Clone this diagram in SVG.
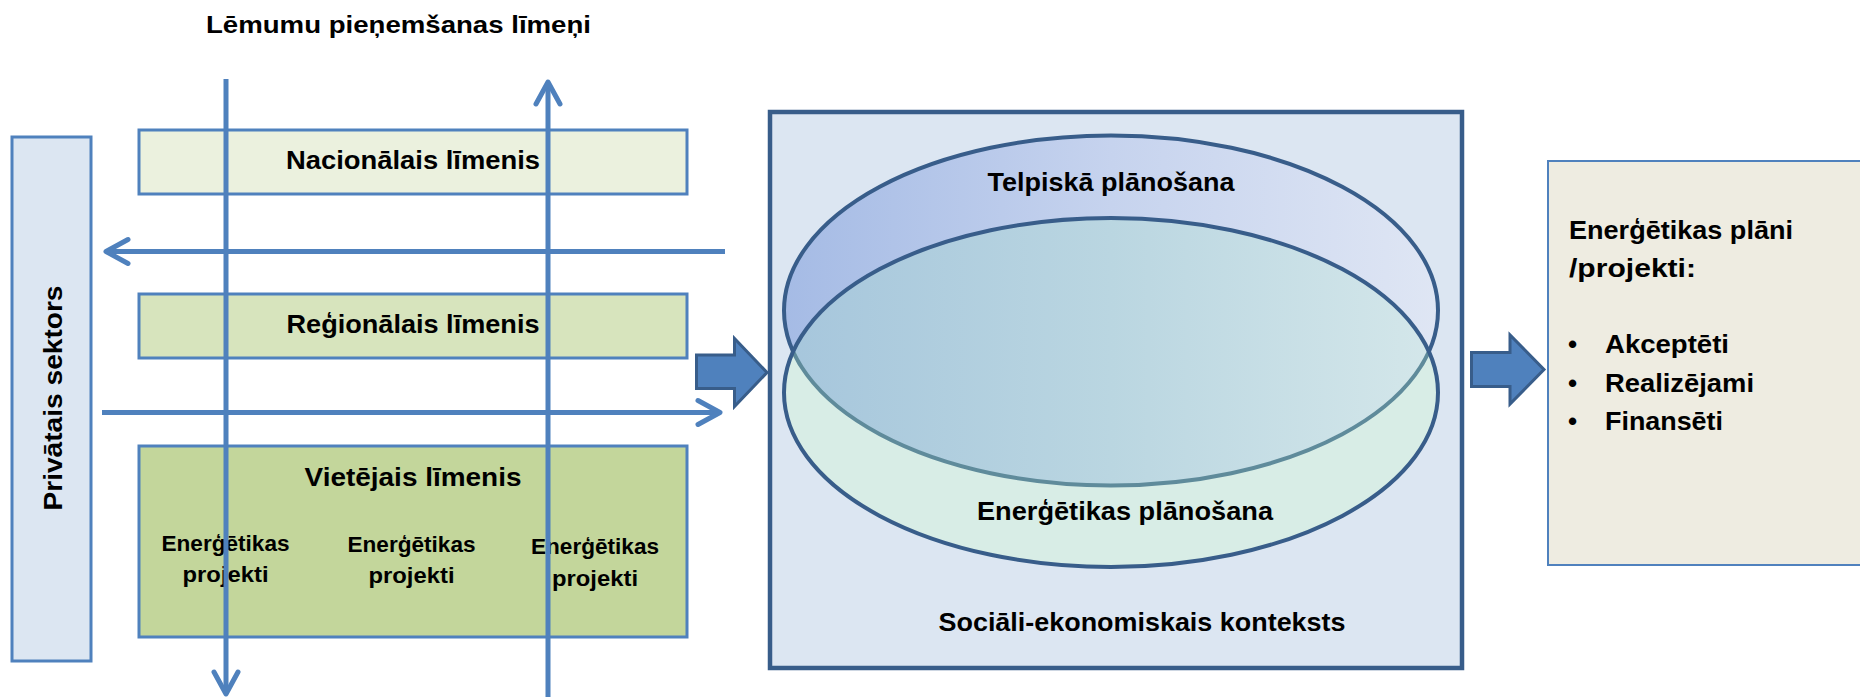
<svg xmlns="http://www.w3.org/2000/svg" width="1860" height="697" viewBox="0 0 1860 697">
<defs>
<style>
.t{font-family:"Liberation Sans",Arial,sans-serif;font-weight:bold;fill:#000}
.c{text-anchor:middle}
.lvl{stroke:#4f81bd;stroke-width:3}
.ln{stroke:#4f81bd;stroke-width:5;fill:none}
.blk{fill:#4f81bd;stroke:#385d8a;stroke-width:3;stroke-linejoin:miter}
</style>
<marker id="ah" markerUnits="userSpaceOnUse" markerWidth="40" markerHeight="40" viewBox="-30 -20 40 40" refX="0" refY="0" orient="auto" overflow="visible">
<path d="M-22,-12 L0,0 L-22,12" fill="none" stroke="#4f81bd" stroke-width="5" stroke-linecap="round" stroke-linejoin="round"/>
</marker>
<linearGradient id="gTop" x1="0" y1="0" x2="1" y2="0">
<stop offset="0" stop-color="#a5bbe5"/>
<stop offset="0.5" stop-color="#c6d3ee"/>
<stop offset="1" stop-color="#dfe6f4"/>
</linearGradient>
<linearGradient id="gOv" x1="0" y1="0" x2="1" y2="0">
<stop offset="0" stop-color="#a6c6dc"/>
<stop offset="0.5" stop-color="#bad6e1"/>
<stop offset="1" stop-color="#d4e7ea"/>
</linearGradient>
<clipPath id="clipBot"><ellipse cx="1111" cy="392.5" rx="327" ry="174.5"/></clipPath>
</defs>
<rect x="0" y="0" width="1860" height="697" fill="#ffffff"/>

<g id="title">
<text class="t c" x="398.5" y="33" font-size="24" textLength="385" lengthAdjust="spacingAndGlyphs">Lēmumu pieņemšanas līmeņi</text>
</g>

<g id="private-sector">
<rect x="12" y="137" width="79" height="524" fill="#dce6f2" stroke="#4f81bd" stroke-width="3"/>
<text class="t c" transform="translate(62,398) rotate(-90)" font-size="26" textLength="225" lengthAdjust="spacingAndGlyphs">Privātais sektors</text>
</g>

<g id="national-level">
<rect class="lvl" x="139" y="130" width="548" height="64" fill="#ebf1de"/>
<text class="t c" x="413" y="169" font-size="25" textLength="254" lengthAdjust="spacingAndGlyphs">Nacionālais līmenis</text>
</g>

<g id="regional-level">
<rect class="lvl" x="139" y="294" width="548" height="64" fill="#d7e4bd"/>
<text class="t c" x="413" y="333" font-size="25" textLength="253" lengthAdjust="spacingAndGlyphs">Reģionālais līmenis</text>
</g>

<g id="local-level">
<rect class="lvl" x="139" y="446" width="548" height="191" fill="#c3d69b"/>
<text class="t c" x="413" y="485.5" font-size="25" textLength="217" lengthAdjust="spacingAndGlyphs">Vietējais līmenis</text>
<text class="t c" x="225.5" y="550.5" font-size="22" textLength="128" lengthAdjust="spacingAndGlyphs">Enerģētikas</text>
<text class="t c" x="225.5" y="581.5" font-size="22" textLength="86" lengthAdjust="spacingAndGlyphs">projekti</text>
<text class="t c" x="411.5" y="551.5" font-size="22" textLength="128" lengthAdjust="spacingAndGlyphs">Enerģētikas</text>
<text class="t c" x="411.5" y="582.5" font-size="22" textLength="86" lengthAdjust="spacingAndGlyphs">projekti</text>
<text class="t c" x="595" y="553.5" font-size="22" textLength="128" lengthAdjust="spacingAndGlyphs">Enerģētikas</text>
<text class="t c" x="595" y="585.5" font-size="22" textLength="86" lengthAdjust="spacingAndGlyphs">projekti</text>
</g>

<g id="context">
<rect x="770" y="112" width="692" height="556" fill="#dce6f2" stroke="#385d8a" stroke-width="4.5"/>
<ellipse cx="1111" cy="310.5" rx="327" ry="175" fill="url(#gTop)" stroke="#385d8a" stroke-width="4"/>
<ellipse cx="1111" cy="392.5" rx="327" ry="174.5" fill="#d8ede6"/>
<ellipse cx="1111" cy="310.5" rx="327" ry="175" fill="url(#gOv)" stroke="#5f8b9b" stroke-width="4" clip-path="url(#clipBot)"/>
<ellipse cx="1111" cy="392.5" rx="327" ry="174.5" fill="none" stroke="#385d8a" stroke-width="4"/>
<text class="t c" x="1111" y="190.5" font-size="25" textLength="247" lengthAdjust="spacingAndGlyphs">Telpiskā plānošana</text>
<text class="t c" x="1125" y="519.5" font-size="25" textLength="296" lengthAdjust="spacingAndGlyphs">Enerģētikas plānošana</text>
<text class="t c" x="1142" y="631" font-size="25" textLength="407" lengthAdjust="spacingAndGlyphs">Sociāli-ekonomiskais konteksts</text>
</g>

<g id="energy-plans">
<rect x="1548" y="161" width="330" height="404" fill="#eeece1" stroke="#4f81bd" stroke-width="2"/>
<text class="t" x="1569" y="238.5" font-size="26" textLength="224" lengthAdjust="spacingAndGlyphs">Enerģētikas plāni</text>
<text class="t" x="1569" y="276.5" font-size="26" textLength="127" lengthAdjust="spacingAndGlyphs">/projekti:</text>
<text class="t" x="1568" y="353" font-size="26">•</text>
<text class="t" x="1605" y="353" font-size="26" textLength="124" lengthAdjust="spacingAndGlyphs">Akceptēti</text>
<text class="t" x="1568" y="391.5" font-size="26">•</text>
<text class="t" x="1605" y="391.5" font-size="26" textLength="149" lengthAdjust="spacingAndGlyphs">Realizējami</text>
<text class="t" x="1568" y="430" font-size="26">•</text>
<text class="t" x="1605" y="430" font-size="26" textLength="118" lengthAdjust="spacingAndGlyphs">Finansēti</text>
</g>

<g id="connectors">
<line class="ln" x1="226" y1="79" x2="226" y2="694" marker-end="url(#ah)"/>
<line class="ln" x1="548" y1="700" x2="548" y2="82" marker-end="url(#ah)"/>
<line class="ln" x1="725" y1="251.5" x2="106" y2="251.5" marker-end="url(#ah)"/>
<line class="ln" x1="102" y1="412.5" x2="720" y2="412.5" marker-end="url(#ah)"/>
<polygon class="blk" points="696.5,355 734.5,355 734.5,338.5 767,372.5 734.5,406.5 734.5,388.5 696.5,388.5"/>
<polygon class="blk" points="1471.5,352.5 1510,352.5 1510,335 1544,369.5 1510,404 1510,386.5 1471.5,386.5"/>
</g>
</svg>
